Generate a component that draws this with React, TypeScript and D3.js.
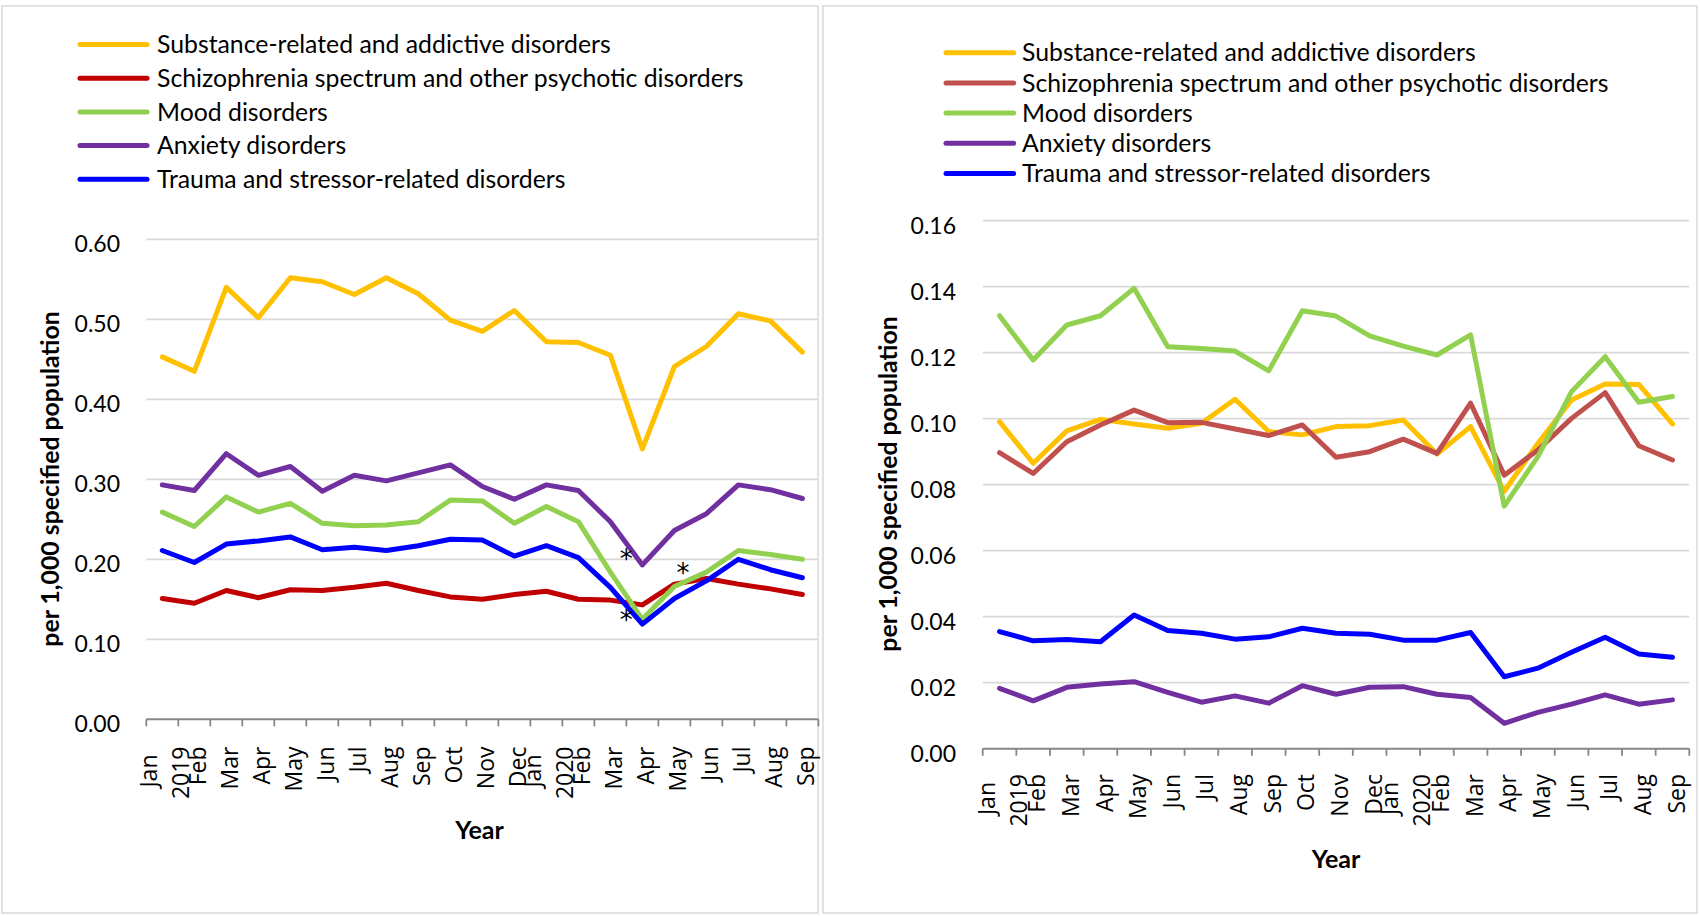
import React from "react";
import * as d3 from "d3";

// ---------- DATA ----------
const monthLabels = ["Jan","Feb","Mar","Apr","May","Jun","Jul","Aug","Sep","Oct","Nov","Dec","Jan","Feb","Mar","Apr","May","Jun","Jul","Aug","Sep"];
const yearLabels = ["2019","","","","","","","","","","","","2020","","","","","","","",""];

const seriesNames = [
  "Substance-related and addictive disorders",
  "Schizophrenia spectrum and other psychotic disorders",
  "Mood disorders",
  "Anxiety disorders",
  "Trauma and stressor-related disorders",
];

const leftSubstance = [0.453,0.435,0.540,0.502,0.552,0.547,0.531,0.552,0.532,0.499,0.485,0.511,0.472,0.471,0.455,0.338,0.441,0.466,0.507,0.498,0.459];
const leftSchizophrenia = [0.151,0.145,0.161,0.152,0.162,0.161,0.165,0.170,0.161,0.153,0.150,0.156,0.160,0.150,0.149,0.143,0.169,0.176,0.169,0.163,0.156];
const leftMood = [0.259,0.241,0.278,0.259,0.270,0.245,0.242,0.243,0.247,0.274,0.273,0.245,0.266,0.247,0.184,0.125,0.166,0.184,0.211,0.206,0.200];
const leftAnxiety = [0.293,0.286,0.332,0.305,0.316,0.285,0.305,0.298,0.308,0.318,0.291,0.275,0.293,0.286,0.247,0.193,0.236,0.257,0.293,0.287,0.276];
const leftTrauma = [0.211,0.196,0.219,0.223,0.228,0.212,0.215,0.211,0.217,0.225,0.224,0.204,0.217,0.202,0.165,0.119,0.151,0.173,0.200,0.187,0.177];

const rightSubstance = [0.0991,0.0865,0.0963,0.0998,0.0984,0.0971,0.0986,0.1059,0.0961,0.0951,0.0976,0.0979,0.0996,0.0893,0.0976,0.0780,0.0925,0.1057,0.1105,0.1104,0.0984];
const rightSchizophrenia = [0.0897,0.0834,0.0930,0.0981,0.1026,0.0988,0.0989,0.0969,0.0949,0.0981,0.0883,0.0900,0.0938,0.0895,0.1047,0.0829,0.0905,0.1001,0.1079,0.0918,0.0875];
const rightMood = [0.1312,0.1178,0.1284,0.1312,0.1395,0.1218,0.1213,0.1205,0.1145,0.1327,0.1311,0.1251,0.1220,0.1193,0.1254,0.0735,0.0885,0.1082,0.1188,0.1050,0.1067];
const rightAnxiety = [0.0183,0.0145,0.0186,0.0196,0.0203,0.0171,0.0141,0.0160,0.0138,0.0191,0.0165,0.0186,0.0188,0.0165,0.0155,0.0077,0.0110,0.0135,0.0163,0.0135,0.0148];
const rightTrauma = [0.0355,0.0327,0.0331,0.0324,0.0405,0.0358,0.0350,0.0332,0.0339,0.0365,0.0350,0.0347,0.0329,0.0329,0.0352,0.0218,0.0244,0.0292,0.0338,0.0287,0.0277];

const leftTicks = [0, 0.1, 0.2, 0.3, 0.4, 0.5, 0.6];
const rightTicks = [0, 0.02, 0.04, 0.06, 0.08, 0.1, 0.12, 0.14, 0.16];

// asterisk annotations (fractional category index, value)
const leftStarIndex = [14.5, 16.27, 14.5];
const leftStarValue = [0.2095, 0.1916, 0.1333];

const yTitle = "per 1,000 specified population";
const xTitle = "Year";

// ---------- STYLE / LAYOUT ----------
const leftColors = ["#FFC000", "#C00000", "#92D050", "#7030A0", "#0000FF"];
const rightColors = ["#FFC000", "#C0504D", "#92D050", "#7030A0", "#0000FF"];

const CAL = "Lato, 'Open Sans', sans-serif";
const SEG = "'Open Sans', 'DejaVu Sans', sans-serif";

type PanelCfg = {
  series: number[][];
  colors: string[];
  ticks: number[];
  border: [number, number, number, number];
  x0: number; x1: number; yTop: number; yBottom: number;
  tickLabelX: number;
  legend: { x1: number; x2: number; tx: number; y0: number; dy: number };
  yTitlePos: [number, number];
  xTitlePos: [number, number];
  labelTop: number;
  stars?: { idx: number[]; val: number[] };
};

function Panel({ cfg }: { cfg: PanelCfg }) {
  const n = monthLabels.length;
  const x = d3.scaleLinear().domain([-0.5, n - 0.5]).range([cfg.x0, cfg.x1]);
  const y = d3
    .scaleLinear()
    .domain([0, cfg.ticks[cfg.ticks.length - 1]])
    .range([cfg.yBottom, cfg.yTop]);
  const line = d3
    .line<number>()
    .x((_, i) => x(i))
    .y((d) => y(d));
  const boundaries = d3.range(n + 1).map((i) => i - 0.5);
  const [bx, by, bw, bh] = cfg.border;
  const MFS = 23;
  const LW = 5;

  return (
    <g>
      <rect x={bx} y={by} width={bw} height={bh} fill="#fff" stroke="#D9D9D9" strokeWidth={1.5} />
      {/* gridlines */}
      {cfg.ticks.slice(1).map((t) => (
        <line key={"g" + t} x1={cfg.x0} x2={cfg.x1} y1={y(t)} y2={y(t)} stroke="#D9D9D9" strokeWidth={1.8} />
      ))}
      {/* y tick labels */}
      {cfg.ticks.map((t) => (
        <text key={"t" + t} x={cfg.tickLabelX} y={y(t) + 5} dy="0.35em" textAnchor="end" fontFamily={CAL} fontSize={23} fill="#000">
          {d3.format(".2f")(t)}
        </text>
      ))}
      {/* x axis */}
      <line x1={cfg.x0} x2={cfg.x1} y1={y(0)} y2={y(0)} stroke="#868686" strokeWidth={2} />
      {boundaries.map((b) => (
        <line key={"k" + b} x1={x(b)} x2={x(b)} y1={y(0)} y2={y(0) + 7} stroke="#868686" strokeWidth={1.8} />
      ))}
      {/* category labels */}
      {monthLabels.map((m, i) => {
        const c = x(i);
        const yr = yearLabels[i];
        if (yr) {
          return (
            <g key={"m" + i}>
              <text transform={`translate(${c - 13},${cfg.labelTop + 8}) rotate(-90)`} dy="0.35em" textAnchor="end" fontFamily={SEG} fontSize={MFS} fill="#000">{m}</text>
              <text transform={`translate(${c + 19},${cfg.labelTop}) rotate(-90)`} dy="0.35em" textAnchor="end" fontFamily={SEG} fontSize={MFS} fill="#000">{yr}</text>
            </g>
          );
        }
        return (
          <text key={"m" + i} transform={`translate(${c + 4},${cfg.labelTop}) rotate(-90)`} dy="0.35em" textAnchor="end" fontFamily={SEG} fontSize={MFS} fill="#000">{m}</text>
        );
      })}
      {/* series lines */}
      {cfg.series.map((s, k) => (
        <path key={"s" + k} d={line(s) || ""} fill="none" stroke={cfg.colors[k]} strokeWidth={LW} strokeLinejoin="round" strokeLinecap="round" />
      ))}
      {/* asterisks */}
      {cfg.stars &&
        cfg.stars.idx.map((si, j) => (
          <text key={"a" + j} x={x(si)} y={y(cfg.stars!.val[j])} dy="0.62em" textAnchor="middle" fontFamily="'DejaVu Sans', sans-serif" fontSize={26} fill="#000">*</text>
        ))}
      {/* legend */}
      {seriesNames.map((name, k) => {
        const ly = cfg.legend.y0 + cfg.legend.dy * k;
        return (
          <g key={"l" + k}>
            <line x1={cfg.legend.x1} x2={cfg.legend.x2} y1={ly} y2={ly} stroke={cfg.colors[k]} strokeWidth={LW} strokeLinecap="round" />
            <text x={cfg.legend.tx} y={ly} dy="0.35em" fontFamily={CAL} fontSize={24.8} fill="#000">{name}</text>
          </g>
        );
      })}
      {/* axis titles */}
      <text transform={`translate(${cfg.yTitlePos[0]},${cfg.yTitlePos[1]}) rotate(-90)`} dy="0.35em" textAnchor="middle" fontFamily={CAL} fontWeight="bold" fontSize={24.8} fill="#000">{yTitle}</text>
      <text x={cfg.xTitlePos[0]} y={cfg.xTitlePos[1]} dy="0.35em" textAnchor="middle" fontFamily={CAL} fontWeight="bold" fontSize={25} fill="#000">{xTitle}</text>
    </g>
  );
}

const leftCfg: PanelCfg = {
  series: [leftSubstance, leftSchizophrenia, leftMood, leftAnxiety, leftTrauma],
  colors: leftColors,
  ticks: leftTicks,
  border: [2, 6, 816, 907],
  x0: 146.3, x1: 818.4, yTop: 239.3, yBottom: 719.3,
  tickLabelX: 120,
  legend: { x1: 80, x2: 147, tx: 157, y0: 44.5, dy: 33.7 },
  yTitlePos: [50.5, 479],
  xTitlePos: [479.5, 830],
  labelTop: 746.5,
  stars: { idx: leftStarIndex, val: leftStarValue },
};

const rightCfg: PanelCfg = {
  series: [rightSubstance, rightSchizophrenia, rightMood, rightAnxiety, rightTrauma],
  colors: rightColors,
  ticks: rightTicks,
  border: [823, 6, 874, 907],
  x0: 982.7, x1: 1689.3, yTop: 220.7, yBottom: 748.7,
  tickLabelX: 956,
  legend: { x1: 946, x2: 1013.6, tx: 1022, y0: 52.7, dy: 30.2 },
  yTitlePos: [888.5, 484],
  xTitlePos: [1336, 859],
  labelTop: 774,
};

export default function App() {
  return (
    <div style={{ position: "absolute", left: 0, top: 0, width: 1700, height: 916, background: "#fff" }}>
      <svg width={1700} height={916} viewBox="0 0 1700 916" style={{ display: "block" }}>
        <rect x={0} y={0} width={1700} height={916} fill="#fff" />
        <Panel cfg={leftCfg} />
        <Panel cfg={rightCfg} />
      </svg>
    </div>
  );
}
